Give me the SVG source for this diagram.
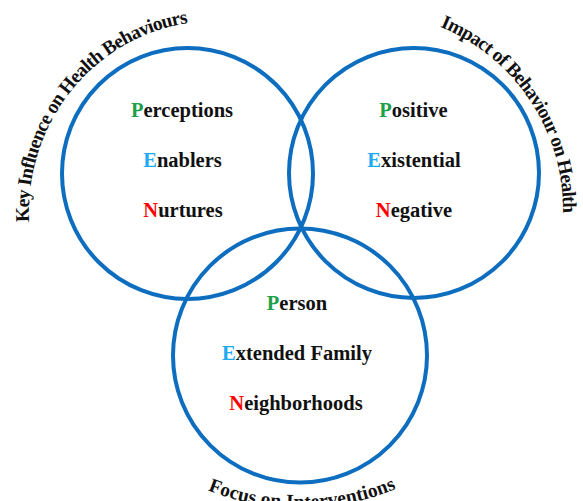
<svg xmlns="http://www.w3.org/2000/svg" width="583" height="501" viewBox="0 0 583 501">
  <style>
    .ring { fill: none; stroke: #0d6dbf; stroke-width: 4; }
    .item { font-family: "Liberation Serif", "Times New Roman", serif; font-weight: bold; font-size: 20.5px; fill: #111; text-anchor: middle; }
    .arc { font-family: "Liberation Serif", "Times New Roman", serif; font-weight: bold; font-size: 19.5px; fill: #111; }
    .p { fill: #1ea04a; }
    .e { fill: #1eaaf0; }
    .n { fill: #ff0000; }
  </style>
  <defs>
    <!-- baselines for the curved titles -->
    <path id="arcLeft" d="M29.25,222 A186,191 0 0 1 231.2,21.7"/>
    <path id="arcRight" d="M440.1,26.8 A198,198 0 0 1 562.2,227.3"/>
    <path id="arcBottom" d="M207.9,490.3 A249,249 0 0 0 424.5,474.6"/>
  </defs>
  <rect width="583" height="501" fill="#ffffff"/>

  <g id="circle-key-influence">
    <circle class="ring" cx="187.5" cy="173.5" r="125.5"/>
    <text class="item" x="182" y="117"><tspan class="p">P</tspan>erceptions</text>
    <text class="item" x="182.5" y="167"><tspan class="e">E</tspan>nablers</text>
    <text class="item" x="183" y="216.5"><tspan class="n">N</tspan>urtures</text>
    <text class="arc"><textPath href="#arcLeft" textLength="279" lengthAdjust="spacing">Key Influence on Health Behaviours</textPath></text>
  </g>

  <g id="circle-impact">
    <circle class="ring" cx="414" cy="173" r="125"/>
    <text class="item" x="413.5" y="117"><tspan class="p">P</tspan>ositive</text>
    <text class="item" x="414" y="167"><tspan class="e">E</tspan>xistential</text>
    <text class="item" x="414" y="216.5"><tspan class="n">N</tspan>egative</text>
    <text class="arc"><textPath href="#arcRight" textLength="237" lengthAdjust="spacing">Impact of Behaviour on Health</textPath></text>
  </g>

  <g id="circle-focus">
    <circle class="ring" cx="300" cy="355.5" r="127"/>
    <text class="item" x="297" y="310"><tspan class="p">P</tspan>erson</text>
    <text class="item" x="297" y="360"><tspan class="e">E</tspan>xtended Family</text>
    <text class="item" x="296" y="410"><tspan class="n">N</tspan>eighborhoods</text>
    <text class="arc"><textPath href="#arcBottom" textLength="193" lengthAdjust="spacing">Focus on Interventions</textPath></text>
  </g>

  <g id="connectors"></g>
</svg>
